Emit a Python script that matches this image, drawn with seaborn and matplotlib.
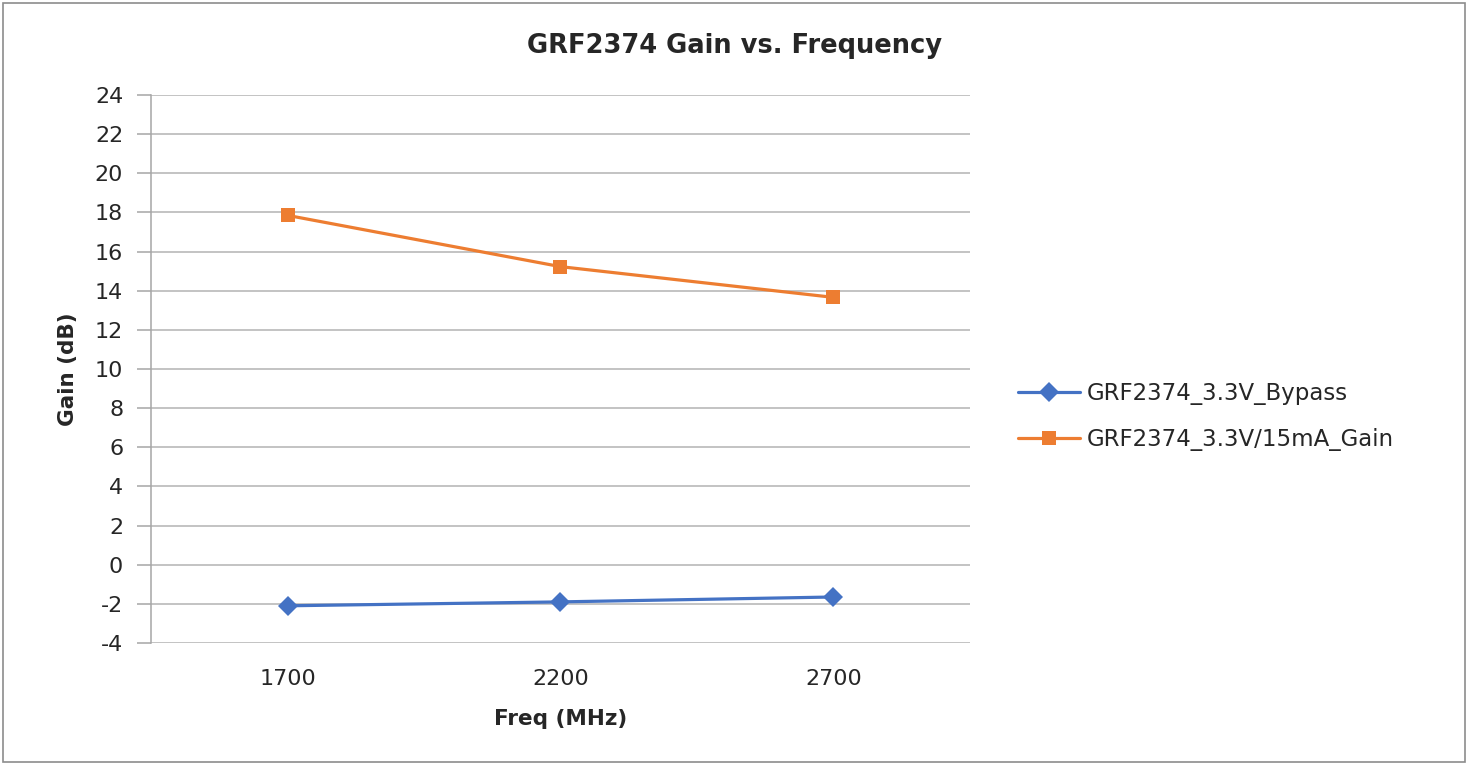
import pandas as pd
import seaborn as sns
import matplotlib.pyplot as plt
from matplotlib.patches import Rectangle

# values
freqs = ["1700", "2200", "2700"]
bypass_gain = [-2.1, -1.9, -1.65]
active_gain = [17.85, 15.23, 13.66]
series_names = ["GRF2374_3.3V_Bypass", "GRF2374_3.3V/15mA_Gain"]
y_ticks = list(range(-4, 25, 2))

sns.set_theme(style="white")
plt.rcParams["font.family"] = ["DejaVu Sans"]
plt.rcParams["axes.unicode_minus"] = False

df = pd.concat([
    pd.DataFrame({"freq": freqs, "gain": bypass_gain, "series": series_names[0]}),
    pd.DataFrame({"freq": freqs, "gain": active_gain, "series": series_names[1]}),
], ignore_index=True)

fig = plt.figure(figsize=(14.69, 7.65), dpi=100)
ax = fig.add_axes([0.1028, 0.1595, 0.5575, 0.7163])

palette = {series_names[0]: "#4472C4", series_names[1]: "#ED7D31"}
markers = {series_names[0]: "D", series_names[1]: "s"}
sns.lineplot(data=df, x="freq", y="gain", hue="series", style="series",
             palette=palette, markers=markers, dashes=False, linewidth=2.3,
             markersize=10, markeredgewidth=0, ax=ax, sort=False)

ax.set_xlim(-0.5, 2.5)
ax.set_ylim(-4, 24)
ax.set_yticks(y_ticks)
ax.yaxis.grid(True, color="#b3b3b3", linewidth=1.1)
ax.set_axisbelow(True)
for side in ["top", "right", "bottom"]:
    ax.spines[side].set_visible(False)
ax.spines["left"].set_color("#a6a6a6")
ax.spines["left"].set_linewidth(1.1)
ax.tick_params(axis="y", which="major", left=True, length=10, width=1.1,
               color="#a6a6a6", labelsize=16, labelcolor="#262626", pad=10)
ax.tick_params(axis="x", bottom=False, labelsize=16, labelcolor="#262626", pad=13)

ax.set_xlabel("Freq (MHz)", fontsize=15.5, fontweight="bold", color="#262626", labelpad=14)
ax.set_ylabel("Gain (dB)", fontsize=15.5, fontweight="bold", color="#262626", labelpad=12)
fig.text(0.5, 0.94, "GRF2374 Gain vs. Frequency", ha="center", va="center",
         fontsize=18.5, fontweight="bold", color="#262626")

handles, labels = ax.get_legend_handles_labels()
ax.legend(handles, labels, loc="center left", bbox_to_anchor=(0.679, 0.456),
          bbox_transform=fig.transFigure, frameon=False, fontsize=16.5,
          handlelength=2.7, handletextpad=0.3, labelspacing=1.0)
for t in ax.get_legend().get_texts():
    t.set_color("#262626")

fig.patches.append(Rectangle((0.002, 0.004), 0.995, 0.992, transform=fig.transFigure,
                             fill=False, edgecolor="#8c8c8c", linewidth=1.2))

fig.savefig("out.png", dpi=100)
